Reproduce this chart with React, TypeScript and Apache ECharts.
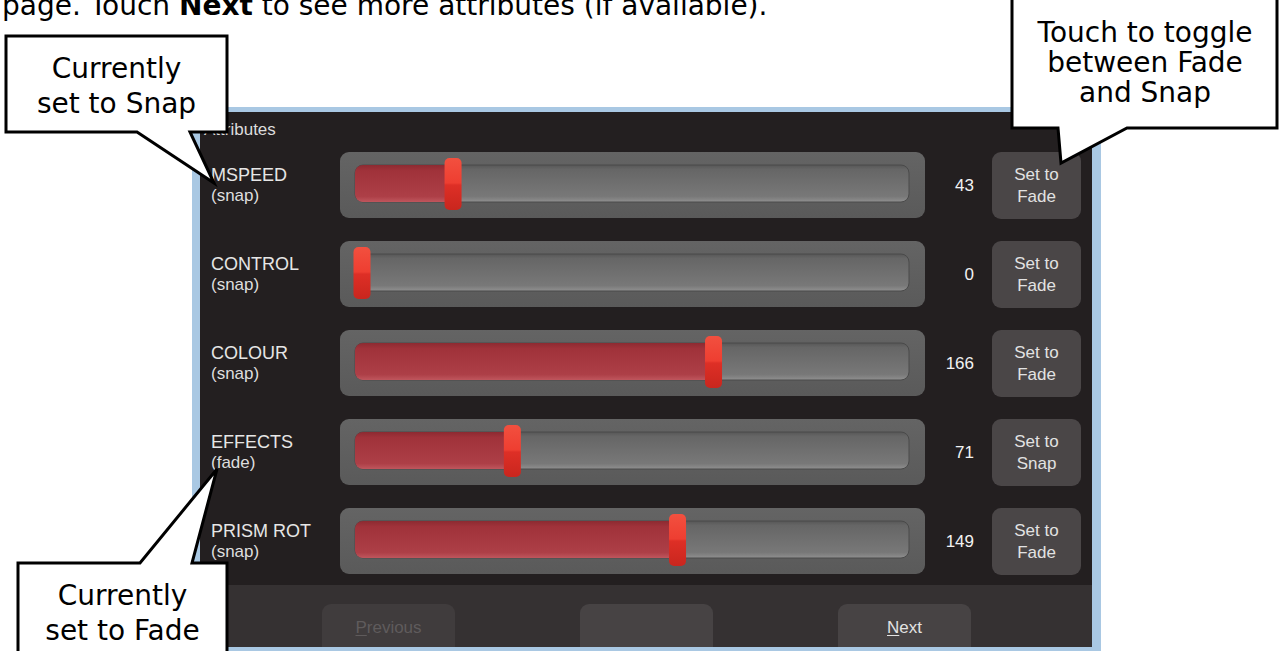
import React, { useEffect, useRef } from 'react';
import * as echarts from 'echarts';

const attributeNames = ['MSPEED', 'CONTROL', 'COLOUR', 'EFFECTS', 'PRISM ROT'];
const attributeValues = [43, 0, 166, 71, 149];
const attributeModes = ['snap', 'snap', 'snap', 'fade', 'snap'];
const valueMin = 0;
const valueMax = 255;
const footerButtons = ['Previous', '', 'Next'];
const introText = ['page. Touch ', 'Next', ' to see more attributes (if available).'];
const calloutSnap = ['Currently', 'set to Snap'];
const calloutToggle = ['Touch to toggle', 'between Fade', 'and Snap'];
const calloutFade = ['Currently', 'set to Fade'];
const panelTitle = 'Attributes';

const UI_FONT = '"Liberation Sans", Arial, sans-serif';
const DOC_FONT = '"DejaVu Sans", Verdana, sans-serif';

function lg(stops: [number, string][]) {
  return new echarts.graphic.LinearGradient(
    0, 0, 0, 1,
    stops.map(([offset, color]) => ({ offset, color }))
  );
}

function calloutText(lines: string[], cx: number, firstY: number, step: number) {
  return lines.map((t, i) => ({
    type: 'text',
    z: 101,
    style: {
      text: t,
      x: cx,
      y: firstY + i * step,
      align: 'center',
      textAlign: 'center',
      verticalAlign: 'middle',
      textVerticalAlign: 'middle',
      fill: '#000',
      fontSize: 28,
      fontFamily: DOC_FONT,
    },
  }));
}

function calloutShape(points: number[][]) {
  return {
    type: 'polygon',
    z: 100,
    shape: { points },
    style: { fill: '#fff', stroke: '#000', lineWidth: 3, lineJoin: 'miter' },
  };
}

export default function App() {
  const ref = useRef<HTMLDivElement>(null);

  useEffect(() => {
    if (!ref.current) return;
    const chart = echarts.init(ref.current, undefined, { renderer: 'svg' });

    const troughFill = lg([[0, '#646464'], [1, '#5a5a5a']]);
    const trackFill = lg([[0, '#575757'], [0.12, '#666666'], [0.85, '#787878'], [1, '#909090']]);
    const redFill = lg([[0, '#8c2a31'], [0.15, '#a0323a'], [0.85, '#ad3f47'], [1, '#bf565d']]);
    const handleFill = lg([[0, '#f2503f'], [0.48, '#ee3e31'], [0.52, '#de2f26'], [1, '#c9261e']]);

    const seriesData = attributeValues.map((v, i) => [v, i]);

    const footerX = [322, 580, 838];
    const footerGraphics: any[] = [];
    footerButtons.forEach((label, i) => {
      const disabled = label === 'Previous';
      footerGraphics.push({
        type: 'rect',
        z: -5,
        shape: { x: footerX[i], y: 604, width: 133, height: 43, r: [9, 9, 0, 0] },
        style: { fill: disabled ? '#403c3d' : '#474344' },
      });
      if (label) {
        const cx = footerX[i] + 66.5;
        footerGraphics.push({
          type: 'text',
          z: -4,
          style: {
            text: label,
            x: cx,
            y: 627,
            align: 'center',
            textAlign: 'center',
            verticalAlign: 'middle',
            textVerticalAlign: 'middle',
            fill: disabled ? '#5f5b5c' : '#e2e2e2',
            fontSize: 17,
            fontFamily: UI_FONT,
          },
        });
        const w = label === 'Previous' ? 66 : 35;
        const fw = label === 'Previous' ? 11.3 : 12.3;
        const sx = cx - w / 2;
        footerGraphics.push({
          type: 'line',
          z: -4,
          shape: { x1: sx, y1: 635.5, x2: sx + fw, y2: 635.5 },
          style: { stroke: disabled ? '#5f5b5c' : '#e2e2e2', lineWidth: 1 },
        });
      }
    });

    const option: any = {
      animation: false,
      grid: {
        left: 362,
        width: 540,
        top: 140.5,
        height: 445,
        containLabel: false,
        outerBoundsMode: 'none',
      },
      xAxis: {
        type: 'value',
        min: valueMin,
        max: valueMax,
        show: false,
        splitLine: { show: false },
      },
      yAxis: {
        type: 'category',
        data: attributeNames,
        inverse: true,
        axisLine: { show: false },
        axisTick: { show: false },
        splitLine: { show: false },
        axisLabel: {
          interval: 0,
          align: 'left',
          margin: 151,
          formatter: (v: string, i: number) => `{n|${v}}\n{m|(${attributeModes[i]})}`,
          rich: {
            n: { fontSize: 18, fontFamily: UI_FONT, color: '#e6e6e6', lineHeight: 21, align: 'left' },
            m: { fontSize: 17, fontFamily: UI_FONT, color: '#dedede', lineHeight: 21, align: 'left' },
          },
        },
      },
      series: [
        {
          type: 'custom',
          clip: false,
          encode: { x: 0, y: 1 },
          data: seriesData,
          renderItem: (params: any, api: any) => {
            const idx = api.value(1);
            const v = api.value(0);
            const [xv, cy] = api.coord([v, idx]);
            const [x0] = api.coord([valueMin, idx]);
            const [x1] = api.coord([valueMax, idx]);
            const mode = attributeModes[idx];
            return {
              type: 'group',
              children: [
                {
                  type: 'rect',
                  shape: { x: x0 - 22, y: cy - 33, width: x1 - x0 + 45, height: 66, r: 9 },
                  style: { fill: troughFill },
                },
                {
                  type: 'rect',
                  shape: { x: x0 - 7, y: cy - 20, width: x1 - x0 + 14, height: 37, r: 8 },
                  style: { fill: trackFill, stroke: '#4a4a4a', lineWidth: 1 },
                },
                {
                  type: 'rect',
                  shape: { x: x0 - 7, y: cy - 20, width: xv - x0 + 7, height: 37, r: [8, 0, 0, 8] },
                  style: { fill: redFill },
                },
                {
                  type: 'rect',
                  shape: { x: xv - 8.5, y: cy - 27, width: 17, height: 52, r: 5 },
                  style: { fill: handleFill },
                },
                {
                  type: 'text',
                  style: {
                    text: String(v),
                    x: x1 + 72,
                    y: cy,
                    align: 'right',
                    textAlign: 'right',
                    verticalAlign: 'middle',
                    textVerticalAlign: 'middle',
                    fill: '#f2f2f2',
                    fontSize: 17,
                    fontFamily: UI_FONT,
                  },
                },
                {
                  type: 'rect',
                  shape: { x: x1 + 90, y: cy - 33, width: 89, height: 67, r: 9 },
                  style: { fill: '#4a4647' },
                },
                {
                  type: 'text',
                  style: {
                    text: 'Set to\n' + (mode === 'snap' ? 'Fade' : 'Snap'),
                    x: x1 + 134.5,
                    y: cy,
                    align: 'center',
                    textAlign: 'center',
                    verticalAlign: 'middle',
                    textVerticalAlign: 'middle',
                    lineHeight: 22,
                    fill: '#e2e2e2',
                    fontSize: 17,
                    fontFamily: UI_FONT,
                  },
                },
              ],
            };
          },
        },
      ],
      graphic: {
        elements: [
          {
            type: 'text',
            z: 50,
            style: {
              text: `{r|${introText[0]}}{b|${introText[1]}}{r|${introText[2]}}`,
              x: 2,
              y: 5,
              verticalAlign: 'middle',
              textVerticalAlign: 'middle',
              rich: {
                r: { fontSize: 28, fontFamily: DOC_FONT, fill: '#000', color: '#000' },
                b: { fontSize: 28, fontFamily: DOC_FONT, fontWeight: 'bold', fill: '#000', color: '#000' },
              },
            },
          },
          {
            type: 'rect',
            z: -10,
            shape: { x: 192, y: 107, width: 909, height: 548 },
            style: { fill: '#a9c8e3' },
          },
          {
            type: 'rect',
            z: -9,
            shape: { x: 200, y: 112, width: 892, height: 535 },
            style: { fill: '#231f20' },
          },
          {
            type: 'rect',
            z: -8,
            shape: { x: 200, y: 585, width: 892, height: 62 },
            style: { fill: '#353132' },
          },
          {
            type: 'text',
            z: -4,
            style: {
              text: panelTitle,
              x: 204,
              y: 129,
              verticalAlign: 'middle',
              textVerticalAlign: 'middle',
              fill: '#dcdcdc',
              fontSize: 17,
              fontFamily: UI_FONT,
            },
          },
          ...footerGraphics,
          calloutShape([[6, 36], [227, 36], [227, 132], [190, 132], [214, 183], [137, 132], [6, 132]]),
          ...calloutText(calloutSnap, 116.5, 68, 35),
          calloutShape([[1012, -5], [1277, -5], [1277, 128], [1127, 128], [1061, 163], [1058, 128], [1012, 128]]),
          ...calloutText(calloutToggle, 1145, 32, 30),
          calloutShape([[18, 660], [18, 563], [140, 563], [217, 469], [192, 563], [227, 563], [227, 660]]),
          ...calloutText(calloutFade, 122.5, 595, 35),
        ],
      },
    };

    chart.setOption(option);
    return () => chart.dispose();
  }, []);

  return (
    <div
      ref={ref}
      style={{ position: 'fixed', left: 0, top: 0, width: 1284, height: 651, background: '#fff' }}
    />
  );
}
